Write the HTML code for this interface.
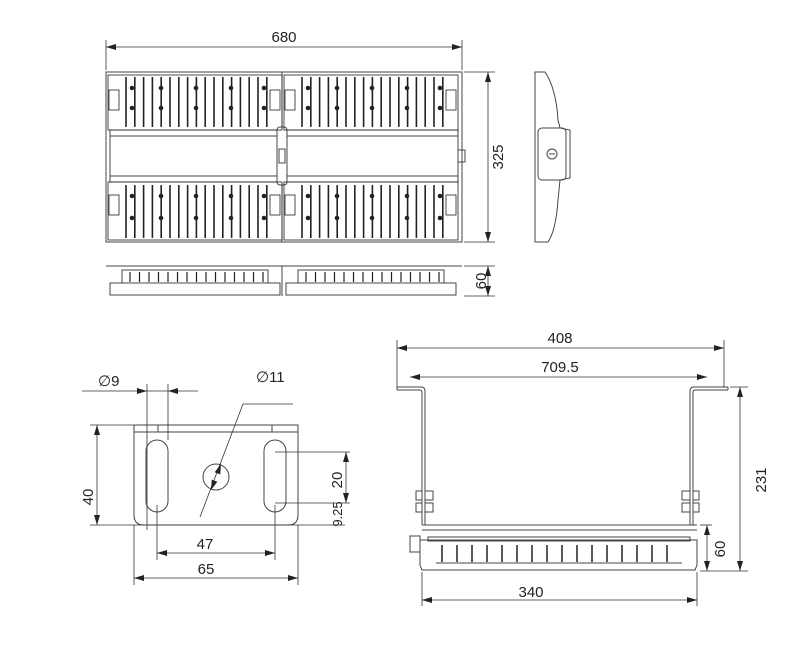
<!DOCTYPE html>
<html><head><style>
html,body{margin:0;padding:0;background:#fff;}
svg{display:block;font-family:"Liberation Sans",sans-serif;}
text{font-size:15px;fill:#222;}
</style></head><body>
<svg id="s" width="800" height="645" viewBox="0 0 800 645" xmlns="http://www.w3.org/2000/svg">
<g stroke="#444" fill="none" stroke-width="1">
<rect x="106" y="72" width="356" height="170"/>
<line x1="282" y1="72" x2="282" y2="242"/>
<rect x="110" y="130" width="348" height="52" fill="#fff"/>
<line x1="110" y1="136" x2="458" y2="136"/>
<line x1="110" y1="176" x2="458" y2="176"/>
<rect x="277" y="127" width="10" height="58" rx="3" fill="#fff"/>
<rect x="279" y="149" width="6" height="14"/>
<rect x="458" y="150" width="7" height="12"/>
<g id="fins" stroke="#222"></g>
<line x1="106" y1="266" x2="462" y2="266"/>
<line x1="282" y1="266" x2="282" y2="296"/>
<rect x="110" y="283" width="170" height="12"/>
<rect x="286" y="283" width="170" height="12"/>
<rect x="122" y="270" width="146" height="13"/>
<rect x="298" y="270" width="146" height="13"/>
<g id="sfins" stroke="#222"></g>
<path d="M535,72 L545,72 Q556,88 558,120 L560,128 L570,130 L570,178 L560,180 L558,200 Q556,230 548,242 L535,242 Z"/>
<rect x="538" y="128" width="28" height="52" rx="4"/>
<circle cx="552" cy="154" r="5"/>
<line x1="549" y1="154" x2="555" y2="154"/>
<path d="M134,425 L298,425 L298,515 Q298,525 288,525 L144,525 Q134,525 134,515 Z"/>
<line x1="134" y1="432" x2="298" y2="432"/>
<line x1="158" y1="425" x2="158" y2="432"/><line x1="272" y1="425" x2="272" y2="432"/>
<rect x="146" y="440" width="22" height="72" rx="11"/>
<rect x="264" y="440" width="22" height="72" rx="11"/>
<circle cx="216" cy="477" r="13"/>
<!-- front view bracket -->
<path d="M397,387 L421,387 Q425,387 425,391 L425,525"/>
<path d="M397,390 L420,390 Q422,390 422,393 L422,525"/>
<path d="M397,387 L397,390"/>
<path d="M728,387 L694,387 Q690,387 690,391 L690,525"/>
<path d="M728,390 L695,390 Q693,390 693,393 L693,525"/>
<path d="M728,387 L728,390"/>
<line x1="422" y1="525" x2="697" y2="525"/><line x1="422" y1="530" x2="697" y2="530"/>
<path d="M420,540 L697,540 L697,565 L695,570 L422,570 L420,565 Z"/>
<rect x="428" y="537" width="262" height="4"/>
<line x1="436" y1="563" x2="682" y2="563"/>
<rect x="410" y="536" width="10" height="16"/>
<rect x="416" y="491" width="6" height="9"/><rect x="416" y="503" width="6" height="9"/>
<rect x="425" y="491" width="8" height="9"/><rect x="425" y="503" width="8" height="9"/>
<rect x="693" y="491" width="6" height="9"/><rect x="693" y="503" width="6" height="9"/>
<rect x="682" y="491" width="8" height="9"/><rect x="682" y="503" width="8" height="9"/>
<g id="ffins" stroke="#222"></g>
</g>
<g id="dims" stroke="#333" fill="none" stroke-width="0.8">
<line x1="106" y1="40" x2="106" y2="70"/><line x1="462" y1="40" x2="462" y2="70"/>
<line x1="464" y1="72" x2="495" y2="72"/><line x1="464" y1="242" x2="495" y2="242"/>
<line x1="464" y1="266" x2="495" y2="266"/><line x1="464" y1="296" x2="495" y2="296"/>
<line x1="147" y1="384" x2="147" y2="530"/><line x1="168" y1="384" x2="168" y2="440"/>
<line x1="90" y1="425" x2="134" y2="425"/><line x1="90" y1="525" x2="345" y2="525"/>
<line x1="157" y1="505" x2="157" y2="560"/><line x1="275" y1="505" x2="275" y2="560"/>
<line x1="134" y1="525" x2="134" y2="585"/><line x1="298" y1="525" x2="298" y2="585"/>
<line x1="275" y1="452" x2="350" y2="452"/><line x1="275" y1="503" x2="350" y2="503"/>
<line x1="200" y1="517" x2="243" y2="404"/><line x1="243" y1="404" x2="293" y2="404"/>
<line x1="397" y1="340" x2="397" y2="387"/><line x1="724" y1="340" x2="724" y2="387"/>
<line x1="730" y1="387" x2="748" y2="387"/><line x1="700" y1="571" x2="748" y2="571"/>
<line x1="700" y1="525" x2="712" y2="525"/>
<line x1="422" y1="572" x2="422" y2="606"/><line x1="697" y1="572" x2="697" y2="606"/>
</g>
<text x="284" y="42" text-anchor="middle">680</text>
<text transform="translate(503,157) rotate(-90)" text-anchor="middle">325</text>
<text transform="translate(486,281) rotate(-90)" text-anchor="middle">60</text>
<text x="98" y="386">∅9</text>
<text x="256" y="382">∅11</text>
<text transform="translate(93,497) rotate(-90)" text-anchor="middle">40</text>
<text x="205" y="549" text-anchor="middle">47</text>
<text x="206" y="574" text-anchor="middle">65</text>
<text transform="translate(342,480) rotate(-90)" text-anchor="middle">20</text>
<text transform="translate(342,514) rotate(-90)" text-anchor="middle" style="font-size:13px">9.25</text>
<text x="560" y="343" text-anchor="middle">408</text>
<text x="560" y="372" text-anchor="middle">709.5</text>
<text transform="translate(766,480) rotate(-90)" text-anchor="middle">231</text>
<text transform="translate(725,549) rotate(-90)" text-anchor="middle">60</text>
<text x="531" y="597" text-anchor="middle">340</text>
</svg>
<script>
var ns="http://www.w3.org/2000/svg";
function L(g,x1,y1,x2,y2,w){var l=document.createElementNS(ns,"line");l.setAttribute("x1",x1);l.setAttribute("y1",y1);l.setAttribute("x2",x2);l.setAttribute("y2",y2);l.setAttribute("stroke-width",w||1.2);g.appendChild(l);}
function R(g,x,y,w,h){var r=document.createElementNS(ns,"rect");r.setAttribute("x",x);r.setAttribute("y",y);r.setAttribute("width",w);r.setAttribute("height",h);r.setAttribute("stroke-width",0.8);g.appendChild(r);}
function C(g,x,y,r){var c=document.createElementNS(ns,"circle");c.setAttribute("cx",x);c.setAttribute("cy",y);c.setAttribute("r",r);c.setAttribute("fill","#222");g.appendChild(c);}
var f=document.getElementById("fins");
[[106,282],[282,458]].forEach(function(h){
 var x0=h[0];
 R(f,x0+2,75,174,55);R(f,x0+2,182,174,58);
 R(f,x0+3,90,10,20);R(f,x0+3,195,10,20);R(f,x0+164,90,10,20);R(f,x0+164,195,10,20);
 for(var i=0;i<17;i++){var x=x0+20+i*8.8;
  L(f,x,77,x,127,1.6);L(f,x,185,x,238,1.6);}
 [x0+26,x0+55,x0+90,x0+125,x0+158].forEach(function(x){C(f,x,88,1.8);C(f,x,108,1.8);C(f,x,196,1.8);C(f,x,218,1.8);});
});
var s=document.getElementById("sfins");
[110,286].forEach(function(x0){for(var i=0;i<15;i++){var x=x0+20+i*9.5;L(s,x,272,x,282,1.2);}});
var ff=document.getElementById("ffins");
for(var i=0;i<16;i++){var x=442+i*15;L(ff,x,545,x,562,1.5);}
var d=document.getElementById("dims");
function A(x,y,ang){var p=document.createElementNS(ns,"polygon");var c=Math.cos(ang),sn=Math.sin(ang),l=10,w=3;
 var bx=x-l*c,by=y-l*sn;p.setAttribute("points",x+","+y+" "+(bx-w*sn)+","+(by+w*c)+" "+(bx+w*sn)+","+(by-w*c));p.setAttribute("fill","#222");p.setAttribute("stroke","none");d.appendChild(p);}
function D(x1,y1,x2,y2){L(d,x1,y1,x2,y2,0.8);var a=Math.atan2(y2-y1,x2-x1);A(x2,y2,a);A(x1,y1,a+Math.PI);}
D(106,47,462,47);D(488,72,488,242);D(488,266,488,296);
D(97,425,97,525);D(157,553,275,553);D(134,578,298,578);D(346,452,346,503);
D(397,348,724,348);D(410,377,707,377);D(740,387,740,571);D(707,525,707,571);D(422,600,697,600);
L(d,82,391,198,391,0.8);A(147,391,0);A(168,391,Math.PI);
var ang=Math.atan2(404-517,243-200);A(211,490,ang+Math.PI);A(221,464,ang);
</script>
</body></html>
